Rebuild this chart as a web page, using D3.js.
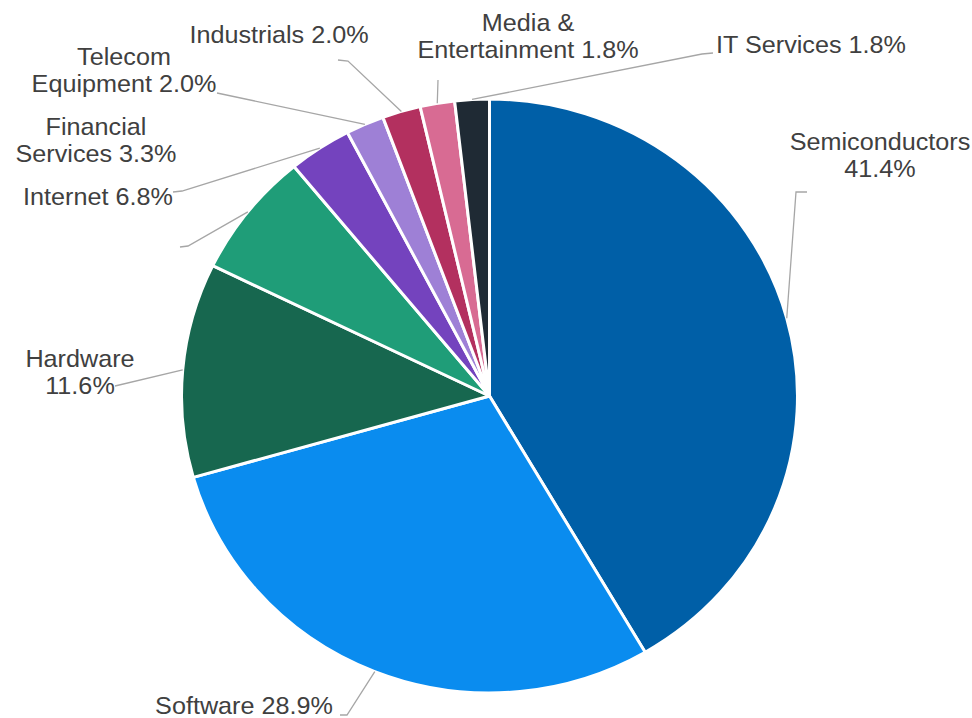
<!DOCTYPE html>
<html>
<head>
<meta charset="utf-8">
<script src="https://cdn.jsdelivr.net/npm/d3@7"></script>
<style>
  html, body { margin: 0; padding: 0; background: #ffffff; }
  svg { display: block; }
  text { font-family: "Liberation Sans", Arial, sans-serif; }
</style>
</head>
<body>
<svg id="chart" width="972" height="718"></svg>
<script>
// ---- Data ----
const categories = ["Semiconductors", "Software", "Hardware", "Internet", "Financial Services",
  "Telecom Equipment", "Industrials", "Media & Entertainment", "IT Services"];
const values = [41.4, 28.9, 11.6, 6.8, 3.3, 2.0, 2.0, 1.8, 1.8];
const colors = ["#005fa7", "#0a8cef", "#17674f", "#1f9d78", "#7443be", "#9e80d6", "#b3305f", "#d86b93", "#1f2a34"];
const labelLines = [
  ["Semiconductors", "41.4%"],
  ["Software 28.9%"],
  ["Hardware", "11.6%"],
  ["Internet 6.8%"],
  ["Financial", "Services 3.3%"],
  ["Telecom", "Equipment 2.0%"],
  ["Industrials 2.0%"],
  ["Media &", "Entertainment 1.8%"],
  ["IT Services 1.8%"]
];

// ---- Layout ----
const cx = 489.5, cy = 396, ry = 297, sx = 1.037;
const rx = ry * sx;
const fontSize = 24, lineH = 27, textStretch = 1.05;

// label anchor: center x, first baseline y
const labelPos = [
  [880, 150], [244, 714], [80, 367], [98, 205], [96, 135],
  [124, 65], [279, 43], [528, 31], [811, 53]
];
// leader start / elbow points (label side)
const leaderStart = [
  [[807, 192], [796, 192]],
  [[340, 715], [347, 715]],
  [[115, 386]],
  [[180, 247], [188, 246]],
  [[173, 192], [182, 191]],
  [[217, 93]],
  [[338, 60], [348, 61]],
  [[438, 80]],
  [[713, 53], [702, 54]]
];

const svg = d3.select("#chart");

const pie = d3.pie().sort(null).value(d => d)(values);
const arc = d3.arc().innerRadius(0).outerRadius(ry);

const g = svg.append("g").attr("transform", `translate(${cx},${cy}) scale(${sx},1)`);
g.selectAll("path.slice")
  .data(pie)
  .join("path")
  .attr("class", "slice")
  .attr("d", arc)
  .attr("fill", (d, i) => colors[i])
  .attr("stroke", "#ffffff")
  .attr("stroke-width", 3)
  .attr("stroke-linejoin", "round")
  .attr("vector-effect", "non-scaling-stroke");

// leader lines
const line = d3.line();
svg.append("g").selectAll("path.leader")
  .data(pie)
  .join("path")
  .attr("class", "leader")
  .attr("d", (d, i) => {
    const a = (d.startAngle + d.endAngle) / 2;
    const end = [cx + rx * Math.sin(a), cy - ry * Math.cos(a)];
    return line(leaderStart[i].concat([end]));
  })
  .attr("fill", "none")
  .attr("stroke", "#a6a6a6")
  .attr("stroke-width", 1.3);

// labels
const lg = svg.append("g");
labelLines.forEach((lines, i) => {
  const t = lg.append("text")
    .attr("transform", `translate(${labelPos[i][0]},${labelPos[i][1]}) scale(${textStretch},1)`)
    .attr("text-anchor", "middle")
    .attr("font-size", fontSize)
    .attr("fill", "#404040");
  lines.forEach((s, j) => {
    t.append("tspan")
      .attr("x", 0)
      .attr("y", j * lineH)
      .text(s);
  });
});
</script>
</body>
</html>
